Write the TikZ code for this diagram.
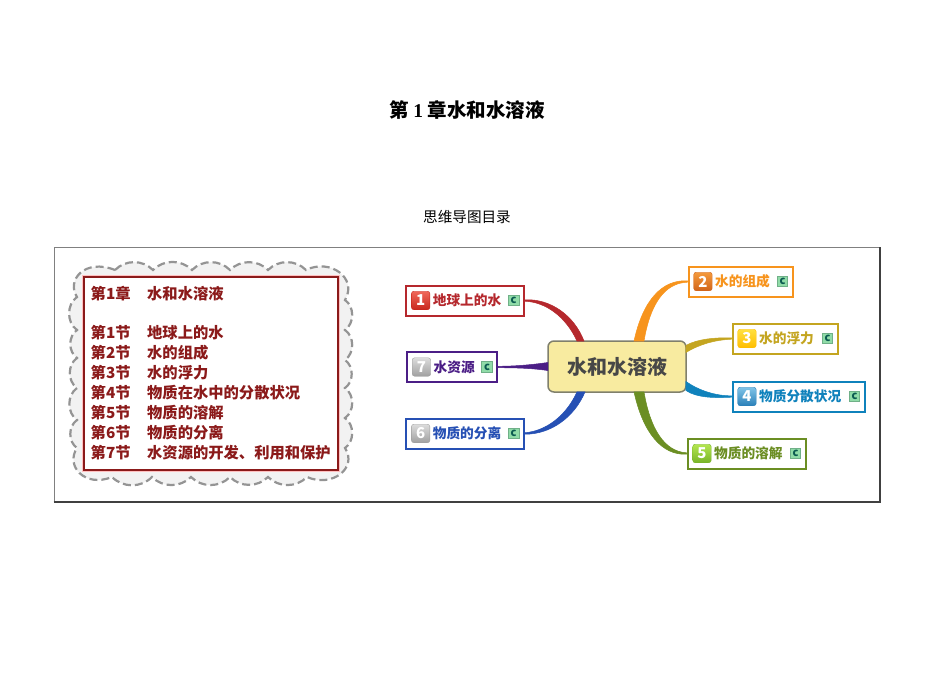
\documentclass[tikz,border=0pt]{standalone}
\usepackage{fontspec}
\setmainfont{Noto Sans CJK SC}
\newfontfamily\serifnum{Liberation Serif}
\usetikzlibrary{calc,shadings}
\definecolor{cRed}{HTML}{B5282D}
\definecolor{cPurple}{HTML}{4B1E86}
\definecolor{cBlue}{HTML}{2650B4}
\definecolor{cOrange}{HTML}{F7941D}
\definecolor{cGold}{HTML}{C4A520}
\definecolor{cSky}{HTML}{0F82BC}
\definecolor{cGreen}{HTML}{6B8E23}
\definecolor{listRed}{HTML}{8B1A1A}
\definecolor{bRedT}{HTML}{F0685A}\definecolor{bRedB}{HTML}{C8281E}
\definecolor{bGrayT}{HTML}{DCDCDC}\definecolor{bGrayB}{HTML}{A0A0A0}
\definecolor{bOrT}{HTML}{F59A3C}\definecolor{bOrB}{HTML}{D0641A}
\definecolor{bYelT}{HTML}{FFE040}\definecolor{bYelB}{HTML}{FFBE00}
\definecolor{bSkyT}{HTML}{80C4E8}\definecolor{bSkyB}{HTML}{2A80B8}
\definecolor{bGrT}{HTML}{B4E650}\definecolor{bGrB}{HTML}{78B428}
\definecolor{iconFill}{HTML}{90DCA8}\definecolor{iconLine}{HTML}{70B088}\definecolor{iconText}{HTML}{0A5A50}
\definecolor{rootFill}{HTML}{F8EBA0}\definecolor{rootLine}{HTML}{80806C}
\tikzset{
  topicbox/.style={draw,line width=2pt,fill=white,minimum height=30pt,inner sep=0pt,anchor=west},
  topictext/.style={font=\fontsize{13.7}{16}\selectfont\bfseries,inner sep=0pt,anchor=west},
  badgebox/.style={rounded corners=2.5pt,minimum size=18.5pt,inner sep=0pt,text=white,font=\fontsize{15}{16}\selectfont\bfseries,anchor=west},
  cicon/.style={draw=iconLine,line width=.6pt,fill=iconFill,minimum size=10.5pt,inner sep=0pt,text=iconText,font=\fontsize{11}{10}\selectfont\bfseries,anchor=east},
  listtext/.style={font=\fontsize{15.3}{20}\selectfont\bfseries,text=listRed,align=left,inner sep=0pt,anchor=north west},
  bump/.style={bend left=45},
  sidebump/.style={bend left=55},
  limb/.style={fill=#1,draw=#1,line width=.5pt}
}
\newcommand{\topicnode}[9]{%
  % name, x1, width, yc, color, number, badgeTop, badgeBot, text
  \node[topicbox,draw=#5,minimum width=#3pt] (#1) at (#2,#4) {};
  \node[badgebox,top color=#7,bottom color=#8,draw=#8,line width=.4pt] (#1b) at ($(#1.west)+(6pt,0)$) {#6};
  \node[topictext,text=#5] (#1t) at ($(#1b.east)+(2.5pt,0)$) {#9};
  \node[cicon] (#1c) at ($(#1.east)+(-5.5pt,0)$) {c};
}
\newcommand{\colrow}[2]{\makebox[56.5pt][l]{#1}#2}
\begin{document}
\begin{tikzpicture}[x=1pt,y=-1pt]
\useasboundingbox[fill=white] (0,0) rectangle (950,687);
\node[font=\fontsize{19.5}{22}\selectfont\bfseries,inner sep=0pt] (title) at (467,110) {第 {\serifnum\bfseries 1} 章水和水溶液};
\node[font=\fontsize{14.6}{16}\selectfont,inner sep=0pt] (sub) at (467,217) {思维导图目录};
\node[draw=black!50,line width=1pt,fill=white,minimum width=825pt,minimum height=254pt,inner sep=0pt] (frame) at (466.5,374) {};
\draw[black!75,line width=2pt] (frame.south west) -- (frame.south east) -- (frame.north east);
% cloud
\draw[black!42,fill=black!5,line width=2.2pt,dash pattern=on 8pt off 4pt]
  (115,270) to[bump] (153,270) to[bump] (192,270) to[bump] (230,270)
  to[bump] (268,270) to[bump] (306,270) .. controls (330,258) and (358,278) .. (345,300)
  to[sidebump] (345,330) to[sidebump] (345,360) to[sidebump] (345,388)
  to[sidebump] (345,418) to[sidebump] (345,448) .. controls (358,468) and (332,488) .. (307,477)
  to[bump] (268,477) to[bump] (230,477) to[bump] (191,477) to[bump] (152,477)
  to[bump] (112,477) .. controls (85,488) and (65,466) .. (77,448)
  to[sidebump] (77,420) to[sidebump] (77,388) to[sidebump] (77,358) to[sidebump] (77,330)
  to[sidebump] (77,297) .. controls (66,280) and (85,258) .. (115,270) -- cycle;
\node[draw=listRed,line width=2pt,fill=white,minimum width=254pt,minimum height=193.5pt,inner sep=0pt,
      preaction={draw=red!25,line width=3.5pt}] (listbox) at (211,373.5) {};
\node[listtext] (list) at (90.5,286) {%
  \colrow{第1章}{水和水溶液}\\[0pt]
  \mbox{}\\[-1pt]
  \colrow{第1节}{地球上的水}\\
  \colrow{第2节}{水的组成}\\
  \colrow{第3节}{水的浮力}\\
  \colrow{第4节}{物质在水中的分散状况}\\
  \colrow{第5节}{物质的溶解}\\
  \colrow{第6节}{物质的分离}\\
  \colrow{第7节}{水资源的开发、利用和保护}};
% topics
\topicnode{tA}{405.2}{117.5}{300.5}{cRed}{1}{bRedT}{bRedB}{地球上的水}
\topicnode{tG}{406}{90}{367}{cPurple}{7}{bGrayT}{bGrayB}{水资源}
\topicnode{tF}{405.2}{117.5}{433.5}{cBlue}{6}{bGrayT}{bGrayB}{物质的分离}
\topicnode{tB}{687.5}{104}{281.5}{cOrange}{2}{bOrT}{bOrB}{水的组成}
\topicnode{tC}{731.5}{105}{338.5}{cGold}{3}{bYelT}{bYelB}{水的浮力}
\topicnode{tD}{731.5}{132}{396.5}{cSky}{4}{bSkyT}{bSkyB}{物质分散状况}
\topicnode{tE}{686.5}{118}{453.5}{cGreen}{5}{bGrT}{bGrB}{物质的溶解}
\node[draw=rootLine,line width=1.5pt,fill=rootFill,rounded corners=6pt,minimum width=138pt,minimum height=51pt,inner sep=0pt,
  font=\fontsize{20}{22}\selectfont\bfseries,text=black!72] (root) at (617,366.5) {水和水溶液};
% branches
\path[limb=cRed] ([yshift=-.7pt]tA.east) .. controls (546,302) and (566,317) .. ([xshift=-40pt,yshift=-.8pt]root.north)
  -- ([xshift=-33pt,yshift=-.8pt]root.north) .. controls (574,315) and (550,298.5) .. ([yshift=.7pt]tA.east) -- cycle;
\path[limb=cPurple] ([yshift=.7pt]tG.east) .. controls (515,366.2) and (530,365) .. ([yshift=4pt,xshift=.6pt]root.west)
  -- ([yshift=-4pt,xshift=.6pt]root.west) .. controls (530,368) and (515,367.8) .. ([yshift=-.7pt]tG.east) -- cycle;
\path[limb=cBlue] ([yshift=.7pt]tF.east) .. controls (546,431) and (566,416) .. ([xshift=-40pt,yshift=.8pt]root.south)
  -- ([xshift=-32pt,yshift=.8pt]root.south) .. controls (574,418) and (550,434.5) .. ([yshift=-.7pt]tF.east) -- cycle;
\path[limb=cOrange] ([yshift=.7pt]tB.west) .. controls (662,279.5) and (643,300) .. ([xshift=17pt,yshift=-.8pt]root.north)
  -- ([xshift=27pt,yshift=-.8pt]root.north) .. controls (650,305) and (664,283) .. ([yshift=-.7pt]tB.west) -- cycle;
\path[limb=cGold] ([yshift=.7pt]tC.west) .. controls (715,337.5) and (697,339) .. ([yshift=21pt,xshift=-.8pt]root.east)
  -- ([yshift=14pt,xshift=-.8pt]root.east) .. controls (700,344) and (715,340) .. ([yshift=-.7pt]tC.west) -- cycle;
\path[limb=cSky] ([yshift=.7pt]tD.west) .. controls (715,396) and (698,390) .. ([yshift=-15pt,xshift=-.8pt]root.east)
  -- ([yshift=-24pt,xshift=-.8pt]root.east) .. controls (697,398) and (715,398) .. ([yshift=-.7pt]tD.west) -- cycle;
\path[limb=cGreen] ([yshift=.7pt]tE.west) .. controls (664,451.5) and (650,428) .. ([xshift=27pt,yshift=.8pt]root.south)
  -- ([xshift=17pt,yshift=.8pt]root.south) .. controls (643,433) and (662,455.5) .. ([yshift=-.7pt]tE.west) -- cycle;
\end{tikzpicture}
\end{document}
